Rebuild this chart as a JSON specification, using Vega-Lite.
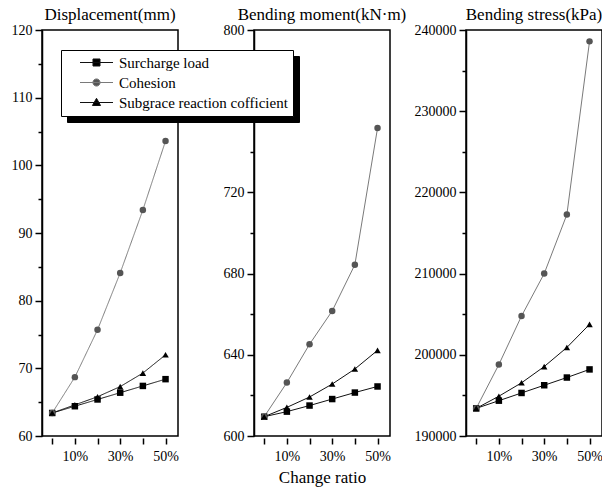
{
  "$schema": "https://vega.github.io/schema/vega-lite/v6.json",
  "padding": {"left": 10, "top": 5, "right": 2, "bottom": 5},
  "background": "white",
  "config": {
    "font": "Liberation Serif",
    "view": {"stroke": "black", "strokeWidth": 1.5},
    "axis": {"domainColor": "black", "tickColor": "black", "labelColor": "black", "labelFontSize": 14, "labelFont": "Liberation Serif", "grid": false, "domainWidth": 1.5, "tickWidth": 1.5, "titleFontWeight": "normal", "titleFontSize": 17, "titleFont": "Liberation Serif", "titleColor": "black"},
    "title": {"fontSize": 17, "fontWeight": "normal", "font": "Liberation Serif", "offset": -1, "color": "black"}
  },
  "datasets": {
    "d": [
      {"panel": "disp", "series": "Surcharge load", "ratio": 0, "value": 63.4},
      {"panel": "disp", "series": "Surcharge load", "ratio": 10, "value": 64.4},
      {"panel": "disp", "series": "Surcharge load", "ratio": 20, "value": 65.4},
      {"panel": "disp", "series": "Surcharge load", "ratio": 30, "value": 66.4},
      {"panel": "disp", "series": "Surcharge load", "ratio": 40, "value": 67.4},
      {"panel": "disp", "series": "Surcharge load", "ratio": 50, "value": 68.4},
      {"panel": "disp", "series": "Cohesion", "ratio": 0, "value": 63.4},
      {"panel": "disp", "series": "Cohesion", "ratio": 10, "value": 68.7},
      {"panel": "disp", "series": "Cohesion", "ratio": 20, "value": 75.7},
      {"panel": "disp", "series": "Cohesion", "ratio": 30, "value": 84.1},
      {"panel": "disp", "series": "Cohesion", "ratio": 40, "value": 93.4},
      {"panel": "disp", "series": "Cohesion", "ratio": 50, "value": 103.6},
      {"panel": "disp", "series": "Subgrace reaction cofficient", "ratio": 0, "value": 63.4},
      {"panel": "disp", "series": "Subgrace reaction cofficient", "ratio": 10, "value": 64.6},
      {"panel": "disp", "series": "Subgrace reaction cofficient", "ratio": 20, "value": 65.8},
      {"panel": "disp", "series": "Subgrace reaction cofficient", "ratio": 30, "value": 67.3},
      {"panel": "disp", "series": "Subgrace reaction cofficient", "ratio": 40, "value": 69.3},
      {"panel": "disp", "series": "Subgrace reaction cofficient", "ratio": 50, "value": 72.0},
      {"panel": "moment", "series": "Surcharge load", "ratio": 0, "value": 609.5},
      {"panel": "moment", "series": "Surcharge load", "ratio": 10, "value": 612},
      {"panel": "moment", "series": "Surcharge load", "ratio": 20, "value": 615},
      {"panel": "moment", "series": "Surcharge load", "ratio": 30, "value": 618.2},
      {"panel": "moment", "series": "Surcharge load", "ratio": 40, "value": 621.4},
      {"panel": "moment", "series": "Surcharge load", "ratio": 50, "value": 624.4},
      {"panel": "moment", "series": "Cohesion", "ratio": 0, "value": 609.5},
      {"panel": "moment", "series": "Cohesion", "ratio": 10, "value": 626.3},
      {"panel": "moment", "series": "Cohesion", "ratio": 20, "value": 645.2},
      {"panel": "moment", "series": "Cohesion", "ratio": 30, "value": 661.6},
      {"panel": "moment", "series": "Cohesion", "ratio": 40, "value": 684.4},
      {"panel": "moment", "series": "Cohesion", "ratio": 50, "value": 751.7},
      {"panel": "moment", "series": "Subgrace reaction cofficient", "ratio": 0, "value": 609.5},
      {"panel": "moment", "series": "Subgrace reaction cofficient", "ratio": 10, "value": 614.1},
      {"panel": "moment", "series": "Subgrace reaction cofficient", "ratio": 20, "value": 619.2},
      {"panel": "moment", "series": "Subgrace reaction cofficient", "ratio": 30, "value": 625.6},
      {"panel": "moment", "series": "Subgrace reaction cofficient", "ratio": 40, "value": 633},
      {"panel": "moment", "series": "Subgrace reaction cofficient", "ratio": 50, "value": 642.2},
      {"panel": "stress", "series": "Surcharge load", "ratio": 0, "value": 193400},
      {"panel": "stress", "series": "Surcharge load", "ratio": 10, "value": 194350},
      {"panel": "stress", "series": "Surcharge load", "ratio": 20, "value": 195300},
      {"panel": "stress", "series": "Surcharge load", "ratio": 30, "value": 196250},
      {"panel": "stress", "series": "Surcharge load", "ratio": 40, "value": 197200},
      {"panel": "stress", "series": "Surcharge load", "ratio": 50, "value": 198200},
      {"panel": "stress", "series": "Cohesion", "ratio": 0, "value": 193400},
      {"panel": "stress", "series": "Cohesion", "ratio": 10, "value": 198800},
      {"panel": "stress", "series": "Cohesion", "ratio": 20, "value": 204780},
      {"panel": "stress", "series": "Cohesion", "ratio": 30, "value": 210000},
      {"panel": "stress", "series": "Cohesion", "ratio": 40, "value": 217270},
      {"panel": "stress", "series": "Cohesion", "ratio": 50, "value": 238600},
      {"panel": "stress", "series": "Subgrace reaction cofficient", "ratio": 0, "value": 193400},
      {"panel": "stress", "series": "Subgrace reaction cofficient", "ratio": 10, "value": 194900},
      {"panel": "stress", "series": "Subgrace reaction cofficient", "ratio": 20, "value": 196550},
      {"panel": "stress", "series": "Subgrace reaction cofficient", "ratio": 30, "value": 198550},
      {"panel": "stress", "series": "Subgrace reaction cofficient", "ratio": 40, "value": 200900},
      {"panel": "stress", "series": "Subgrace reaction cofficient", "ratio": 50, "value": 203750}
    ]
  },
  "bounds": "flush",
  "spacing": 76,
  "hconcat": [
    {
      "width": 136, "height": 406,
      "title": {"text": "Displacement(mm)"},
      "data": {"name": "d"},
      "transform": [{"filter": "datum.panel === 'disp'"}],
      "encoding": {
        "x": {"field": "ratio", "type": "quantitative", "scale": {"domain": [-4.5, 55.5], "nice": false, "zero": false},
              "axis": {"values": [0, 10, 20, 30, 40, 50], "labelExpr": "datum.value % 20 == 10 ? datum.value + '%' : ''", "title": null, "domain": false, "offset": 2, "tickSize": 6, "labelPadding": 5}}
      },
      "layer": [
        {
          "mark": {"type": "line", "strokeWidth": 1},
          "encoding": {
            "y": {"field": "value", "type": "quantitative", "scale": {"domain": [60, 120], "nice": false, "zero": false},
                  "axis": {"values": [60, 70, 80, 90, 100, 110, 120], "title": null, "tickSize": 7, "labelPadding": 3}},
            "color": {"field": "series", "type": "nominal",
                      "scale": {"domain": ["Surcharge load", "Cohesion", "Subgrace reaction cofficient"], "range": ["#111111", "#7a7a7a", "#111111"]},
                      "legend": {"title": null, "orient": "none", "legendX": 19, "legendY": 20, "zindex": 2,
                                 "fillColor": "white", "strokeColor": "black", "padding": 5, "rowPadding": 4,
                                 "labelFontSize": 15, "labelFont": "Liberation Serif", "labelColor": "black", "labelLimit": 0,
                                 "symbolSize": 36, "symbolOffset": 23, "labelOffset": 15, "symbolStrokeWidth": 1,
                                 "encode": {"symbols": {"update": {
                                   "shape": {"signal": "datum.value === 'Surcharge load' ? 'M-5.5,0H5.5M-1.17,-1.17H1.17V1.17H-1.17Z' : datum.value === 'Cohesion' ? 'M-5.5,0H5.5M-1.2,0A1.2,1.2 0 1,0 1.2,0A1.2,1.2 0 1,0 -1.2,0Z' : 'M-5.5,0H5.5M0,-1.4L1.35,1L-1.35,1Z'"},
                                   "fill": {"signal": "datum.value === 'Cohesion' ? '#555555' : '#000000'"},
                                   "strokeWidth": {"value": 1}
                                 }}}}},
            "strokeDash": {"field": "series", "type": "nominal",
                           "scale": {"domain": ["Cohesion", "Surcharge load", "Subgrace reaction cofficient"], "range": [[1, 0], [1, 0], [1, 0]]},
                           "legend": {"title": null, "orient": "none", "legendX": 25, "legendY": 26, "zindex": 1,
                                      "fillColor": "black", "strokeColor": "black", "padding": 5, "rowPadding": 4,
                                      "labelFontSize": 15, "labelFont": "Liberation Serif", "labelColor": "black", "labelLimit": 0,
                                      "symbolSize": 36, "symbolOffset": 23, "labelOffset": 15, "symbolStrokeWidth": 1,
                                      "encode": {"symbols": {"update": {
                                        "shape": {"value": "M-5.5,0H5.5M-1.17,-1.17H1.17V1.17H-1.17Z"},
                                        "fill": {"value": "#000000"},
                                        "stroke": {"value": "#000000"},
                                        "strokeWidth": {"value": 1}
                                      }}}}}
          }
        },
        {
          "mark": {"type": "point", "filled": true, "opacity": 1, "size": 42},
          "encoding": {
            "y": {"field": "value", "type": "quantitative", "scale": {"domain": [60, 120], "nice": false, "zero": false},
                  "axis": {"values": [65, 75, 85, 95, 105, 115], "labels": false, "domain": false, "title": null, "tickSize": 4, "orient": "left"}},
            "shape": {"field": "series", "type": "nominal", "scale": {"range": ["circle", "triangle-up", "square"]}, "legend": null},
            "fill": {"field": "series", "type": "nominal", "scale": {"range": ["#555555", "#000000", "#000000"]}, "legend": null}
          }
        }
      ],
      "resolve": {"axis": {"y": "independent"}}
    },
    {
      "width": 136, "height": 406,
      "title": {"text": "Bending moment(kN·m)"},
      "data": {"name": "d"},
      "transform": [{"filter": "datum.panel === 'moment'"}],
      "encoding": {
        "x": {"field": "ratio", "type": "quantitative", "scale": {"domain": [-4.5, 55.5], "nice": false, "zero": false},
              "axis": {"values": [0, 10, 20, 30, 40, 50], "labelExpr": "datum.value % 20 == 10 ? datum.value + '%' : ''", "title": "Change ratio", "titlePadding": 6, "domain": false, "offset": 2, "tickSize": 6, "labelPadding": 5}}
      },
      "layer": [
        {
          "mark": {"type": "line", "strokeWidth": 1},
          "encoding": {
            "y": {"field": "value", "type": "quantitative", "scale": {"domain": [600, 800], "nice": false, "zero": false},
                  "axis": {"values": [600, 640, 680, 720, 760, 800], "title": null, "tickSize": 7, "labelPadding": 3}},
            "color": {"field": "series", "type": "nominal",
                      "scale": {"domain": ["Surcharge load", "Cohesion", "Subgrace reaction cofficient"], "range": ["#111111", "#7a7a7a", "#111111"]}}
          }
        },
        {
          "mark": {"type": "point", "filled": true, "opacity": 1, "size": 42},
          "encoding": {
            "y": {"field": "value", "type": "quantitative", "scale": {"domain": [600, 800], "nice": false, "zero": false},
                  "axis": {"values": [620, 660, 700, 740, 780], "labels": false, "domain": false, "title": null, "tickSize": 4, "orient": "left"}},
            "shape": {"field": "series", "type": "nominal", "scale": {"range": ["circle", "triangle-up", "square"]}, "legend": null},
            "fill": {"field": "series", "type": "nominal", "scale": {"range": ["#555555", "#000000", "#000000"]}, "legend": null}
          }
        }
      ],
      "resolve": {"axis": {"y": "independent"}}
    },
    {
      "width": 136, "height": 406,
      "title": {"text": "Bending stress(kPa)"},
      "data": {"name": "d"},
      "transform": [{"filter": "datum.panel === 'stress'"}],
      "encoding": {
        "x": {"field": "ratio", "type": "quantitative", "scale": {"domain": [-4.5, 55.5], "nice": false, "zero": false},
              "axis": {"values": [0, 10, 20, 30, 40, 50], "labelExpr": "datum.value % 20 == 10 ? datum.value + '%' : ''", "title": null, "domain": false, "offset": 2, "tickSize": 6, "labelPadding": 5}}
      },
      "layer": [
        {
          "mark": {"type": "line", "strokeWidth": 1},
          "encoding": {
            "y": {"field": "value", "type": "quantitative", "scale": {"domain": [190000, 240000], "nice": false, "zero": false},
                  "axis": {"values": [190000, 200000, 210000, 220000, 230000, 240000], "format": "d", "title": null, "tickSize": 7, "labelPadding": 3}},
            "color": {"field": "series", "type": "nominal",
                      "scale": {"domain": ["Surcharge load", "Cohesion", "Subgrace reaction cofficient"], "range": ["#111111", "#7a7a7a", "#111111"]}}
          }
        },
        {
          "mark": {"type": "point", "filled": true, "opacity": 1, "size": 42},
          "encoding": {
            "y": {"field": "value", "type": "quantitative", "scale": {"domain": [190000, 240000], "nice": false, "zero": false},
                  "axis": {"values": [195000, 205000, 215000, 225000, 235000], "labels": false, "domain": false, "title": null, "tickSize": 4, "orient": "left"}},
            "shape": {"field": "series", "type": "nominal", "scale": {"range": ["circle", "triangle-up", "square"]}, "legend": null},
            "fill": {"field": "series", "type": "nominal", "scale": {"range": ["#555555", "#000000", "#000000"]}, "legend": null}
          }
        }
      ],
      "resolve": {"axis": {"y": "independent"}}
    }
  ]
}
